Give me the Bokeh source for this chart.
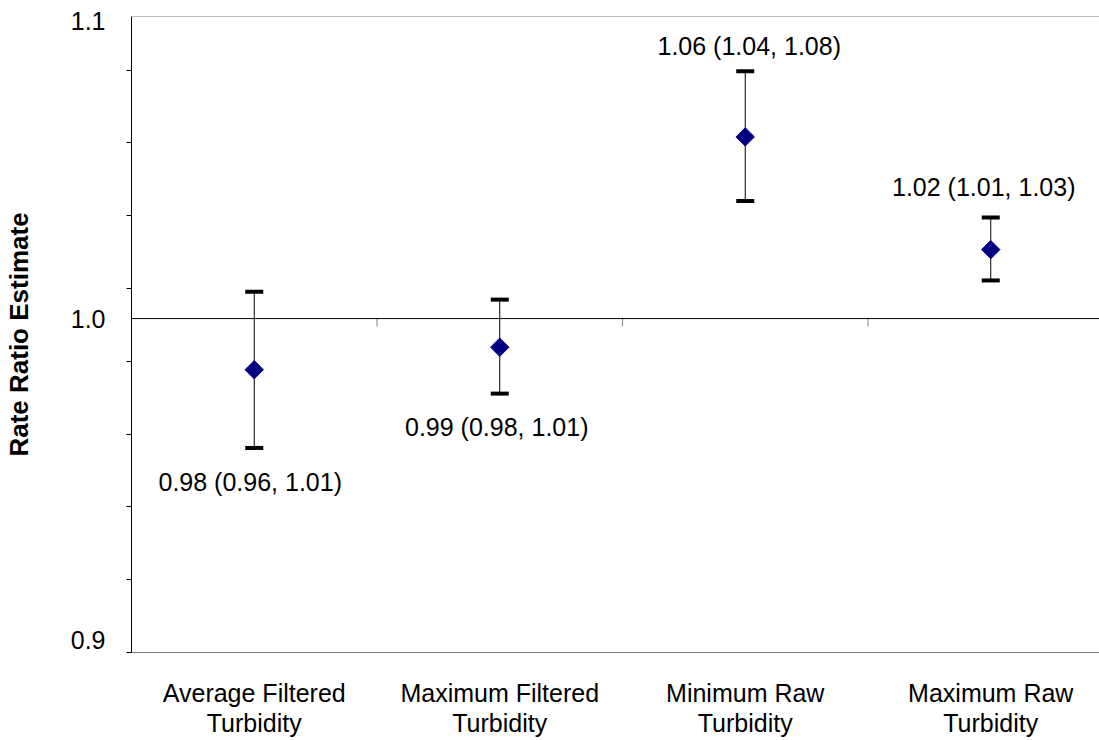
import math
from bokeh.plotting import figure
from bokeh.models import (Range1d, FixedTicker, PrintfTickFormatter,
                          Whisker, TeeHead, ColumnDataSource, Span)
from bokeh.core.properties import value
from bokeh.embed import file_html
from bokeh.resources import INLINE

# ---- data -------------------------------------------------------------
categories = ["Average Filtered\nTurbidity", "Maximum Filtered\nTurbidity",
              "Minimum Raw\nTurbidity", "Maximum Raw\nTurbidity"]
estimate = [0.984, 0.991, 1.059, 1.022]
lower = [0.960, 0.9766, 1.0378, 1.0121]
upper = [1.0085, 1.006, 1.0812, 1.0324]
labels = ["0.98 (0.96, 1.01)", "0.99 (0.98, 1.01)",
          "1.06 (1.04, 1.08)", "1.02 (1.01, 1.03)"]
y_min, y_max = 0.9, 1.1
y_label_ticks = [0.90369, 1.0, 1.0986]          # where "0.9", "1.0", "1.1" sit
y_minor_ticks = [0.9, 0.9209, 0.9423, 0.9642, 0.9866,
                 1.0095, 1.0330, 1.0570, 1.0815]
reference = 1.0

# ---- layout/style -----------------------------------------------------
FONT = "Liberation Sans"
xs = list(range(len(categories)))
label_y = [lower[0], lower[1], upper[2], upper[3]]
x_off = [-4, -3, 4, -7]
y_off = [34, 33, -25, -31]
sep_tick_factor = 0.9975   # separator tick marks hang ~8 px below the 1.0 line

src = ColumnDataSource(dict(x=xs, est=estimate, lower=lower, upper=upper,
                            label=labels, label_y=label_y, xo=x_off, yo=y_off))
seps = [i + 0.5 for i in xs[:-1]]
sep_src = ColumnDataSource(dict(x=seps, y0=[reference] * len(seps),
                                y1=[reference * sep_tick_factor] * len(seps)))

p = figure(width=1099, height=740,
           x_range=Range1d(-0.5, 3.443), y_range=Range1d(y_min, y_max),
           y_axis_type="log", output_backend="svg", toolbar_location=None,
           min_border_left=131, min_border_right=0, min_border_top=16,
           min_border_bottom=86)
p.grid.visible = False
p.outline_line_color = None
p.background_fill_color = "white"
p.border_fill_color = "white"

# y axis
ya = p.yaxis[0]
ya.ticker = FixedTicker(ticks=y_label_ticks, minor_ticks=y_minor_ticks)
ya.formatter = PrintfTickFormatter(format="%.1f")
ya.major_tick_out = 0
ya.major_tick_in = 0
ya.minor_tick_out = 5
ya.minor_tick_in = 0
ya.minor_tick_line_color = "black"
ya.axis_line_color = "black"
ya.major_label_text_font = FONT
ya.major_label_text_font_size = "25px"
ya.major_label_text_color = "black"
ya.major_label_standoff = 21
ya.axis_label = "Rate Ratio Estimate"
ya.axis_label_text_font = FONT
ya.axis_label_text_font_size = "26px"
ya.axis_label_text_font_style = "bold"
ya.axis_label_text_color = "black"
ya.axis_label_standoff = 34

# x axis (labels at the bottom)
xa = p.xaxis[0]
xa.ticker = FixedTicker(ticks=xs, minor_ticks=[])
xa.major_label_overrides = {i: c for i, c in enumerate(categories)}
xa.major_tick_out = 0
xa.major_tick_in = 0
xa.minor_tick_out = 0
xa.axis_line_color = "#808080"
xa.major_label_text_font = FONT
xa.major_label_text_font_size = "25px"
xa.major_label_text_color = "black"
xa.major_label_text_line_height = 1.1
xa.major_label_standoff = 26

# horizontal axis line at 1.0 with category separators
p.add_layout(Span(location=reference, dimension="width", line_color="black", line_width=1))
p.segment(x0="x", y0="y0", x1="x", y1="y1", source=sep_src,
          line_color="#808080", line_width=1)

# top border
p.add_layout(Span(location=y_max, dimension="width", line_color="#808080", line_width=1))

# error bars
p.add_layout(Whisker(base="x", lower="lower", upper="upper", source=src,
                     dimension="height", line_color="black", line_width=1,
                     upper_head=TeeHead(size=18, line_width=4, line_color="black"),
                     lower_head=TeeHead(size=18, line_width=4, line_color="black")))

# estimates
p.scatter(x="x", y="est", source=src, marker="square", angle=math.pi / 4, size=13,
          fill_color="#000080", line_color="#000080")

# data labels
p.text(x="x", y="label_y", text="label", x_offset="xo", y_offset="yo", source=src,
       text_align="center", text_baseline="middle", text_font=value(FONT),
       text_font_size="25px", text_color="black")

open("out.html", "w").write(file_html(p, INLINE))
